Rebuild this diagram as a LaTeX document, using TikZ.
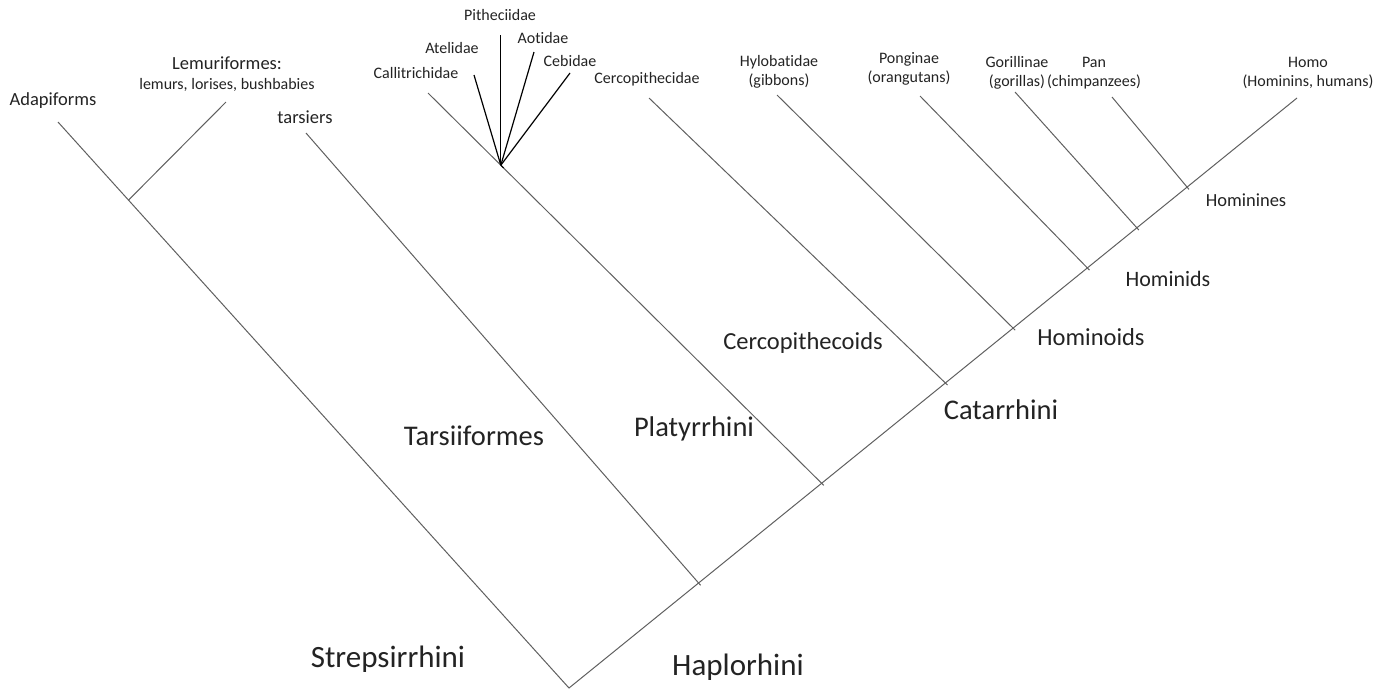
\documentclass[tikz,border=0pt]{standalone}
\usepackage{fontspec}
\setmainfont[Ligatures=NoCommon]{Carlito}
\usetikzlibrary{calc}
\definecolor{branchc}{RGB}{95,95,95}
\definecolor{txt}{RGB}{35,35,35}
\begin{document}
\begin{tikzpicture}[x=1pt,y=-1pt,
  branch/.style={draw=branchc, line width=1pt},
  fanline/.style={draw=black, line width=1.2pt},
  lbl/.style={text=txt, inner sep=0pt, anchor=base},
  lbl2/.style={text=txt, inner sep=0pt, anchor=center, align=center, font=\fontsize{16}{19}\selectfont},
  fsa/.style={font=\fontsize{16}{19}\selectfont},
  fsb/.style={font=\fontsize{18.5}{22}\selectfont},
  fsc/.style={font=\fontsize{22}{26}\selectfont},
  fsd/.style={font=\fontsize{24.5}{29}\selectfont},
  fse/.style={font=\fontsize{28.5}{34}\selectfont},
  fsf/.style={font=\fontsize{31}{37}\selectfont}]
\useasboundingbox (0,0) rectangle (1386,689);
% main skeleton
\coordinate (root) at (569,688);
\coordinate (adtip) at (58,122);
\coordinate (hotip) at (1297,98);
% left side
\coordinate (jlem) at ($(root)!0.862!(adtip)$);
\coordinate (lemtip) at (226,102);
% right side junctions
\coordinate (jtar) at ($(root)!0.178!(hotip)$);
\coordinate (jpla) at ($(root)!0.347!(hotip)$);
\coordinate (jcer) at ($(root)!0.517!(hotip)$);
\coordinate (jhyl) at ($(root)!0.610!(hotip)$);
\coordinate (jpon) at ($(root)!0.712!(hotip)$);
\coordinate (jgor) at ($(root)!0.780!(hotip)$);
\coordinate (jpan) at ($(root)!0.849!(hotip)$);
% tips
\coordinate (tartip) at (306,133);
\coordinate (platip) at (428,93);
\coordinate (fan) at ($(platip)!0.185!(jpla)$);
\coordinate (certip) at (649,98);
\coordinate (hyltip) at (777,95);
\coordinate (pontip) at (920,96);
\coordinate (gortip) at (1015,92);
\coordinate (pantip) at (1112,97);
\coordinate (pittip) at ($(fan)+(0,-130)$);
\coordinate (atetip) at (474,75);
\coordinate (aottip) at (534,52);
\coordinate (cebtip) at (570,73);

\draw[branch, line join=miter] (adtip) -- (root) -- (hotip);
\draw[branch] (jlem) -- (lemtip);
\draw[branch] (tartip) -- ($(jtar)!-3pt!(tartip)$);
\draw[branch] (platip) -- ($(jpla)!-3pt!(platip)$);
\draw[branch] (certip) -- ($(jcer)!-3pt!(certip)$);
\draw[branch] (hyltip) -- ($(jhyl)!-3pt!(hyltip)$);
\draw[branch] (pontip) -- ($(jpon)!-3pt!(pontip)$);
\draw[branch] (gortip) -- ($(jgor)!-3pt!(gortip)$);
\draw[branch] (pantip) -- ($(jpan)!-3pt!(pantip)$);
% fan of platyrrhine families
\draw[fanline] (fan) -- (pittip);
\draw[fanline] (fan) -- (atetip);
\draw[fanline] (fan) -- (aottip);
\draw[fanline] (fan) -- (cebtip);
\draw[fanline] (fan) -- ($(fan)!4pt!(jpla)$);

% tip labels
\node[lbl,fsb] (adap) at (53,105) {Adapiforms};
\node[lbl,fsb] (lemu) at (227,69) {Lemuriformes:};
\node[lbl,fsa] (lemu2) at (227,89) {lemurs, lorises, bushbabies};
\node[lbl,fsb] (tars) at (305,123) {tarsiers};
\node[lbl,fsa] (call) at (416,78) {Callitrichidae};
\node[lbl,fsa] (atel) at (452,53) {Atelidae};
\node[lbl,fsa] (pith) at (500,20) {Pitheciidae};
\node[lbl,fsa] (aoti) at (543,43) {Aotidae};
\node[lbl,fsa] (cebi) at (570,66) {Cebidae};
\node[lbl,fsa] (cerc) at (647,83) {Cercopithecidae};
\node[lbl2] (hylo) at (779,72) {Hylobatidae\\(gibbons)};
\node[lbl2] (pong) at (909,69) {Ponginae\\(orangutans)};
\node[lbl2] (gori) at (1017,73) {Gorillinae\\(gorillas)};
\node[lbl2] (pan) at (1094,73) {Pan\\(chimpanzees)};
\node[lbl2] (homo) at (1308,73) {Homo\\(Hominins, humans)};
% clade labels
\node[lbl,fsb] (hmnes) at (1246,206) {Hominines};
\node[lbl,fsc] (hmids) at (1168,286) {Hominids};
\node[lbl,fsd] (hmoid) at (1091,345) {Hominoids};
\node[lbl,fsd] (cercs) at (803,349) {Cercopithecoids};
\node[lbl,fse] (catar) at (1001,419) {Catarrhini};
\node[lbl,fse] (platy) at (694,436) {Platyrrhini};
\node[lbl,fse] (tarsi) at (474,445) {Tarsiiformes};
\node[lbl,fsf] (strep) at (388,667) {Strepsirrhini};
\node[lbl,fsf] (haplo) at (738,675) {Haplorhini};
\end{tikzpicture}
\end{document}
